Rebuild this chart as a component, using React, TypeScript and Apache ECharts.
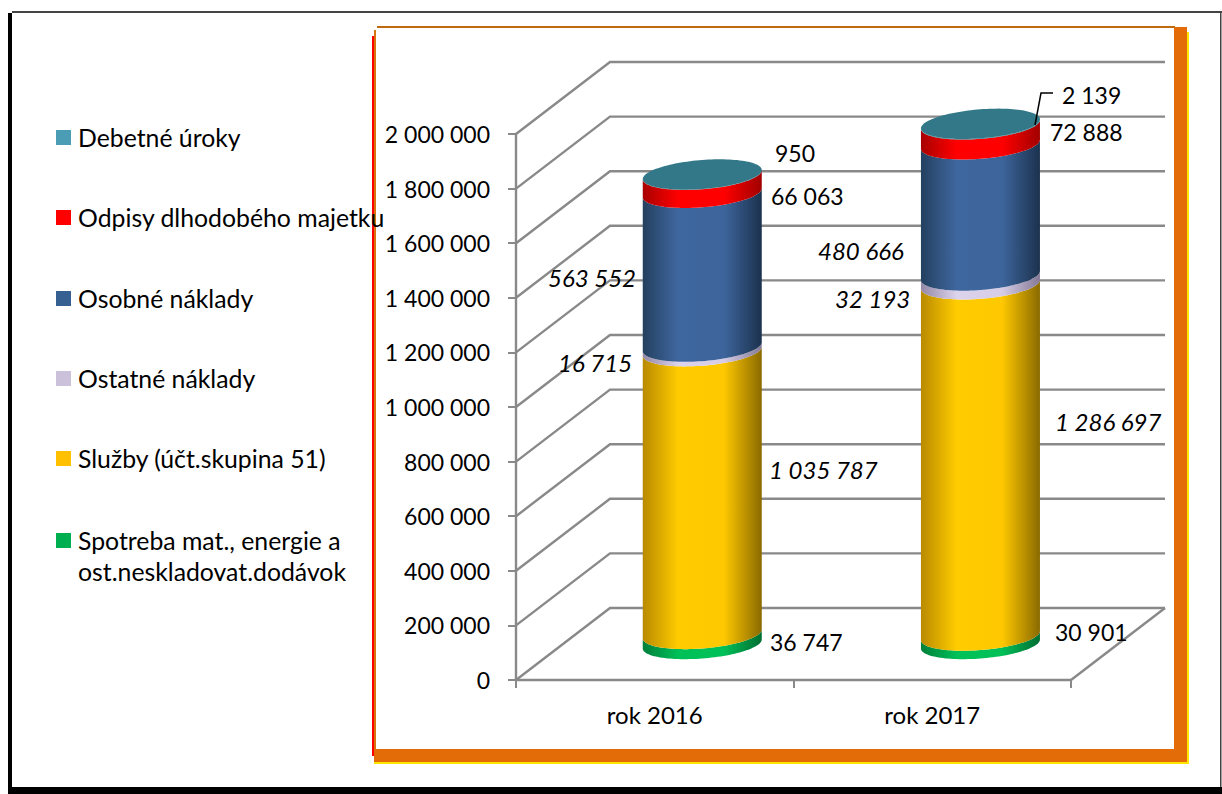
import React, { useEffect, useRef } from "react";
import * as echarts from "echarts";

const categories = ["rok 2016", "rok 2017"];
const yTicks = [0, 200000, 400000, 600000, 800000, 1000000, 1200000, 1400000, 1600000, 1800000, 2000000];

// bottom to top of the stack
const spotreba = [36747, 30901];
const sluzby = [1035787, 1286697];
const ostatne = [16715, 32193];
const osobne = [563552, 480666];
const odpisy = [66063, 72888];
const uroky = [950, 2139];

const seriesNames = [
  "Spotreba mat., energie a\nost.neskladovat.dodávok",
  "Služby (účt.skupina 51)",
  "Ostatné náklady",
  "Osobné náklady",
  "Odpisy dlhodobého majetku",
  "Debetné úroky",
];
const seriesValues = [spotreba, sluzby, ostatne, osobne, odpisy, uroky];

const legendColors = ["#00B050", "#FFC000", "#CCC1DA", "#376092", "#FF0000", "#4A9DB5"];
const shades = [
  ["#007F3A", "#00C058", "#00C058", "#006E32"],
  ["#B98A00", "#FFCC00", "#FFC800", "#8A6A00"],
  ["#9488A6", "#DCD3EC", "#D6CCE6", "#857A96"],
  ["#24405F", "#3F679F", "#3D659C", "#1C324E"],
  ["#A80000", "#FF0000", "#FF0000", "#A00000"],
  ["#2F6F80", "#337888", "#337888", "#2F6F80"],
];
const topColor = "#337888";

// label anchors (left x, middle y) per series, per category
const labelPos = [
  [[770, 642], [1055, 632]],
  [[769, 469], [1055, 421]],
  [[558, 362], [835, 298]],
  [[548, 277], [818, 250]],
  [[771, 196], [1050, 132]],
  [[775, 153], [1062, 95]],
];
const labelItalic = [false, true, true, true, false, false];

const legendY = [138, 218, 299, 379, 459, 541];

const FONT = "Lato";
const FS = 23;
const FS_ITALIC = 24;
const FS_CATEGORY = 24;
const FS_LEGEND = 24.8;
const GRID = { left: 516, top: 134, width: 555, height: 546 };
const DX = 94;
const DY = -72;
const GRAY = "#898989";
const CYL_RATIO = 119 / 277.5;
const TILT = 4.5;
const MINOR = 14.5;
const CENTER_NUDGE = [0.5, 1.2];

const fmt = (v: number) => String(v).replace(/\B(?=(\d{3})+(?!\d))/g, " ");

function ellipsePoint(cx: number, cy: number, a: number, t: number) {
  return [cx + a * Math.cos(t), cy - TILT * Math.cos(t) + MINOR * Math.sin(t)];
}

function cylinderRenderer(si: number) {
  return (params: any, api: any) => {
    const idx = api.value(0);
    const bottom = api.coord([idx, api.value(1)]);
    const top = api.coord([idx, api.value(2)]);
    const band = api.size([1, 0])[0];
    const a = (band * CYL_RATIO) / 2;
    const cx = bottom[0] + DX / 2 + CENTER_NUDGE[idx];
    const yB = bottom[1] + DY / 2;
    const yT = top[1] + DY / 2;
    const pts: number[][] = [];
    const N = 60;
    for (let i = 0; i <= N; i++) pts.push(ellipsePoint(cx, yB, a, Math.PI - (Math.PI * i) / N));
    for (let i = 0; i <= N; i++) pts.push(ellipsePoint(cx, yT, a, (Math.PI * i) / N));
    const s = shades[si];
    const children: any[] = [
      {
        type: "polygon",
        shape: { points: pts },
        style: {
          fill: {
            type: "linear", x: 0, y: 0, x2: 1, y2: 0,
            colorStops: [
              { offset: 0, color: s[0] },
              { offset: 0.3, color: s[1] },
              { offset: 0.68, color: s[2] },
              { offset: 1, color: s[3] },
            ],
          },
        },
      },
    ];
    if (si === seriesValues.length - 1) {
      const ring: number[][] = [];
      for (let i = 0; i < 2 * N; i++) ring.push(ellipsePoint(cx, yT, a, (Math.PI * i) / N));
      children.push({ type: "polygon", shape: { points: ring }, style: { fill: topColor } });
    }
    return { type: "group", children };
  };
}

function labelRenderer(si: number) {
  return (params: any, api: any) => {
    const idx = api.value(0);
    const p = labelPos[si][idx];
    return {
      type: "text",
      x: p[0],
      y: p[1],
      z2: 10,
      style: {
        text: fmt(seriesValues[si][idx]),
        fontFamily: FONT,
        fontSize: labelItalic[si] ? FS_ITALIC : FS,
        fontStyle: labelItalic[si] ? "italic" : "normal",
        fill: "#000",
        align: "left",
        verticalAlign: "middle",
      },
    };
  };
}

function wallRenderer(params: any, api: any) {
  const v = api.value(0);
  const y = api.coord([0, v])[1];
  const x0 = params.coordSys.x;
  const x1 = x0 + params.coordSys.width;
  const lineStyle = { stroke: GRAY, lineWidth: 2.4, fill: "none" };
  const children: any[] = [
    { type: "polyline", shape: { points: [[x0, y], [x0 + DX, y + DY], [x1 + DX, y + DY]] }, style: lineStyle },
  ];
  if (v === 0) {
    children.push({ type: "line", shape: { x1: x1, y1: y, x2: x1 + DX, y2: y + DY }, style: lineStyle });
  }
  return { type: "group", children };
}

function buildOption() {
  const series: any[] = [
    {
      type: "custom",
      name: "walls",
      coordinateSystem: "cartesian2d",
      renderItem: wallRenderer,
      data: yTicks.map((v) => [v]),
      encode: { y: 0 },
      z: 1,
      silent: true,
    },
  ];
  const running = categories.map(() => 0);
  seriesValues.forEach((vals, si) => {
    const data = vals.map((v, i) => {
      const row = [i, running[i], running[i] + v];
      running[i] += v;
      return row;
    });
    series.push({
      type: "custom",
      name: seriesNames[si],
      coordinateSystem: "cartesian2d",
      renderItem: cylinderRenderer(si),
      data,
      encode: { x: 0, y: [1, 2] },
      z: 3 + si,
      silent: true,
    });
  });
  seriesValues.forEach((vals, si) => {
    series.push({
      type: "custom",
      name: "labels " + si,
      coordinateSystem: "cartesian2d",
      renderItem: labelRenderer(si),
      data: vals.map((v, i) => [i, v]),
      encode: { x: 0 },
      z: 20,
      silent: true,
    });
  });

  const legendGraphics: any[] = [];
  seriesNames.forEach((name, si) => {
    const y = legendY[seriesNames.length - 1 - si];
    legendGraphics.push({
      type: "rect",
      z: 5,
      shape: { x: 56, y: y - 8, width: 15, height: 15 },
      style: { fill: legendColors[si] },
    });
    legendGraphics.push({
      type: "text",
      z: 5,
      x: 78,
      y: y - 16,
      style: {
        text: name,
        fontFamily: FONT,
        fontSize: FS_LEGEND,
        lineHeight: 31,
        fill: "#000",
        align: "left",
        verticalAlign: "top",
      },
    });
  });

  const rect = (x: number, y: number, width: number, height: number, fill: string) => ({
    type: "rect",
    z: 0,
    shape: { x, y, width, height },
    style: { fill },
  });

  return {
    animation: false,
    backgroundColor: "#fff",
    grid: { ...GRID, containLabel: false },
    xAxis: {
      type: "category",
      data: categories,
      axisLine: { lineStyle: { color: GRAY, width: 2.4 } },
      axisTick: { show: true, length: 8, alignWithLabel: false, lineStyle: { color: GRAY, width: 2 } },
      axisLabel: { margin: 22, fontFamily: FONT, fontSize: FS_CATEGORY, color: "#000" },
      splitLine: { show: false },
    },
    yAxis: {
      type: "value",
      min: 0,
      max: 2000000,
      interval: 200000,
      axisLine: { show: true, lineStyle: { color: GRAY, width: 2.4 } },
      axisTick: { show: true, length: 8, lineStyle: { color: GRAY, width: 2 } },
      axisLabel: { margin: 26, fontFamily: FONT, fontSize: FS, color: "#000", formatter: (v: number) => fmt(v) },
      splitLine: { show: false },
    },
    graphic: [
      // outer frame
      rect(12, 11, 1210, 2, "#444444"),
      rect(8, 13, 4, 781, "#000000"),
      rect(8, 787, 1214, 7, "#000000"),
      rect(1220, 11, 1.5, 776, "#444444"),
      // orange frame
      rect(372, 36, 2, 720, "#FF0000"),
      rect(374, 30, 2, 726, "#D9730F"),
      rect(377, 26, 798, 2, "#C06A10"),
      rect(1187, 32, 2, 732, "#FFE600"),
      rect(1174, 27, 13, 735, "#E36C09"),
      rect(374, 762, 813, 2, "#FFE600"),
      rect(374, 749, 813, 13, "#E36C09"),
      // leader line
      { type: "polyline", z: 30, shape: { points: [[1035, 125], [1041, 93], [1053, 93]] }, style: { stroke: "#000", lineWidth: 1.5, fill: "none" } },
      ...legendGraphics,
    ],
    series,
  };
}

export default function App() {
  const ref = useRef<HTMLDivElement>(null);
  useEffect(() => {
    const chart = echarts.init(ref.current!, undefined, { renderer: "svg" });
    chart.setOption(buildOption() as any);
    return () => chart.dispose();
  }, []);
  return <div ref={ref} style={{ position: "fixed", left: 0, top: 0, width: 1222, height: 794 }} />;
}
